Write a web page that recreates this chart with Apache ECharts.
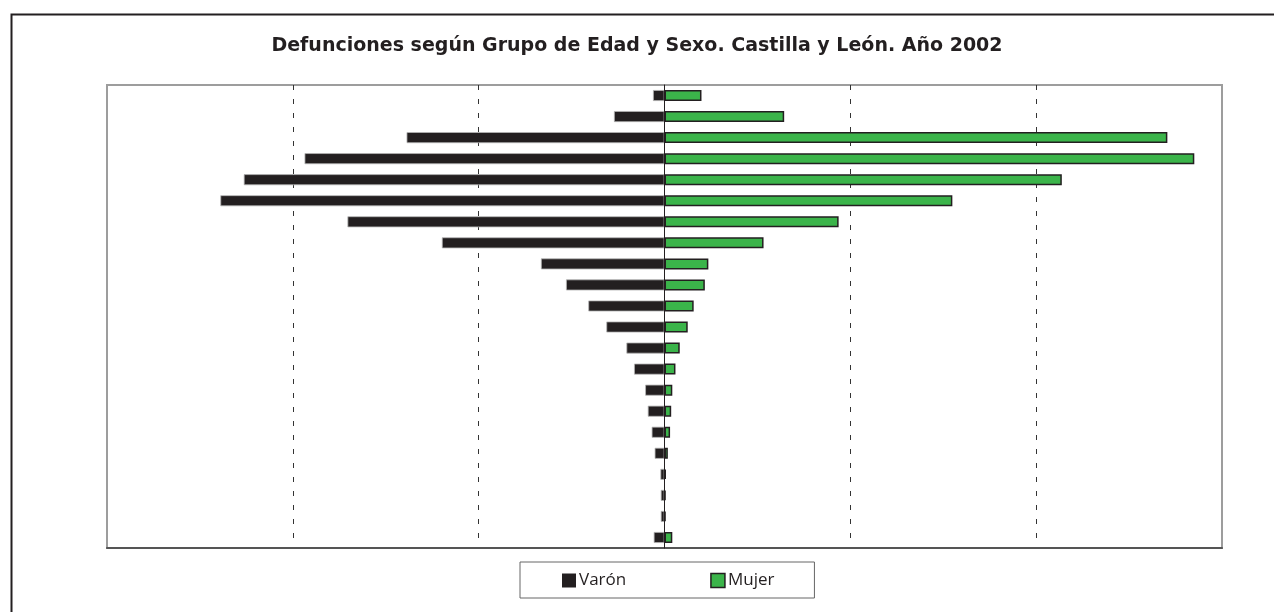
<!DOCTYPE html>
<html>
<head>
<meta charset="utf-8">
<script src="https://cdn.jsdelivr.net/npm/echarts@6/dist/echarts.min.js"></script>
<style>
html,body{margin:0;padding:0;background:#fff;}
#c{width:1274px;height:612px;}
</style>
</head>
<body>
<div id="c"></div>
<script>
// Age groups, bottom to top
var categories = ['<1','1-4','5-9','10-14','15-19','20-24','25-29','30-34','35-39','40-44','45-49','50-54','55-59','60-64','65-69','70-74','75-79','80-84','85-89','90-94','95-99','100+'];
// Deaths
var varon = [58, 20, 20, 22, 53, 69, 90, 104, 164, 205, 313, 410, 530, 665, 1198, 1706, 2390, 2264, 1937, 1388, 272, 62];
var mujer = [42, 6, 6, 8, 18, 30, 36, 42, 59, 82, 125, 157, 217, 236, 533, 937, 1549, 2138, 2851, 2706, 644, 199];
var xTicks = {min: -3000, max: 3000, interval: 1000};

var chart = echarts.init(document.getElementById('c'));
var dark = '#231f20';
var green = '#3bb44a';
chart.setOption({
  animation: false,
  title: {
    text: 'Defunciones según Grupo de Edad y Sexo. Castilla y León. Año 2002',
    left: 'center', top: 32,
    textStyle: {fontFamily: 'DejaVu Sans', fontWeight: 'bold', fontSize: 19, color: dark}
  },
  graphic: [{
    type: 'rect', left: 9, top: 12, silent: true,
    shape: {width: 1300, height: 700},
    style: {fill: 'none', stroke: dark, lineWidth: 2}
  }],
  legend: {
    left: 520, top: 562,
    padding: [10, 40, 9, 42],
    borderColor: '#666', borderWidth: 1,
    itemWidth: 14, itemHeight: 14, itemGap: 84,
    textStyle: {fontFamily: 'Open Sans', fontSize: 17, color: dark, padding: [0,0,0,-2]},
    data: [
      {name: 'Varón', icon: 'rect', itemStyle: {color: dark, borderWidth: 0}},
      {name: 'Mujer', icon: 'rect', itemStyle: {color: green, borderColor: dark, borderWidth: 1.5}}
    ]
  },
  grid: {left: 107, right: 52, top: 85, bottom: 64, show: true, borderColor: '#9d9d9d', borderWidth: 2, backgroundColor: 'transparent'},
  xAxis: {
    type: 'value', min: xTicks.min, max: xTicks.max, interval: xTicks.interval,
    axisLabel: {show: false}, axisTick: {show: false},
    axisLine: {show: true, lineStyle: {color: '#555', width: 2}},
    splitLine: {show: true, lineStyle: {color: ['transparent', '#333', '#333', 'transparent', '#333', '#333', 'transparent'], type: [5, 9], width: 1}}
  },
  yAxis: {
    type: 'category', data: categories,
    axisLabel: {show: false}, axisTick: {show: false},
    axisLine: {show: true, onZero: true, lineStyle: {color: dark, width: 1}},
    z: 5
  },
  series: [
    {
      name: 'Varón', type: 'bar', barWidth: 11, barGap: '-100%',
      data: varon.map(function(v){ return -v; }),
      itemStyle: {color: dark, borderColor: '#b5b5b5', borderWidth: 0.8}
    },
    {
      name: 'Mujer', type: 'bar', barWidth: 11, barGap: '-100%',
      data: mujer,
      itemStyle: {color: green, borderColor: dark, borderWidth: 1.5}
    }
  ]
});
</script>
</body>
</html>
